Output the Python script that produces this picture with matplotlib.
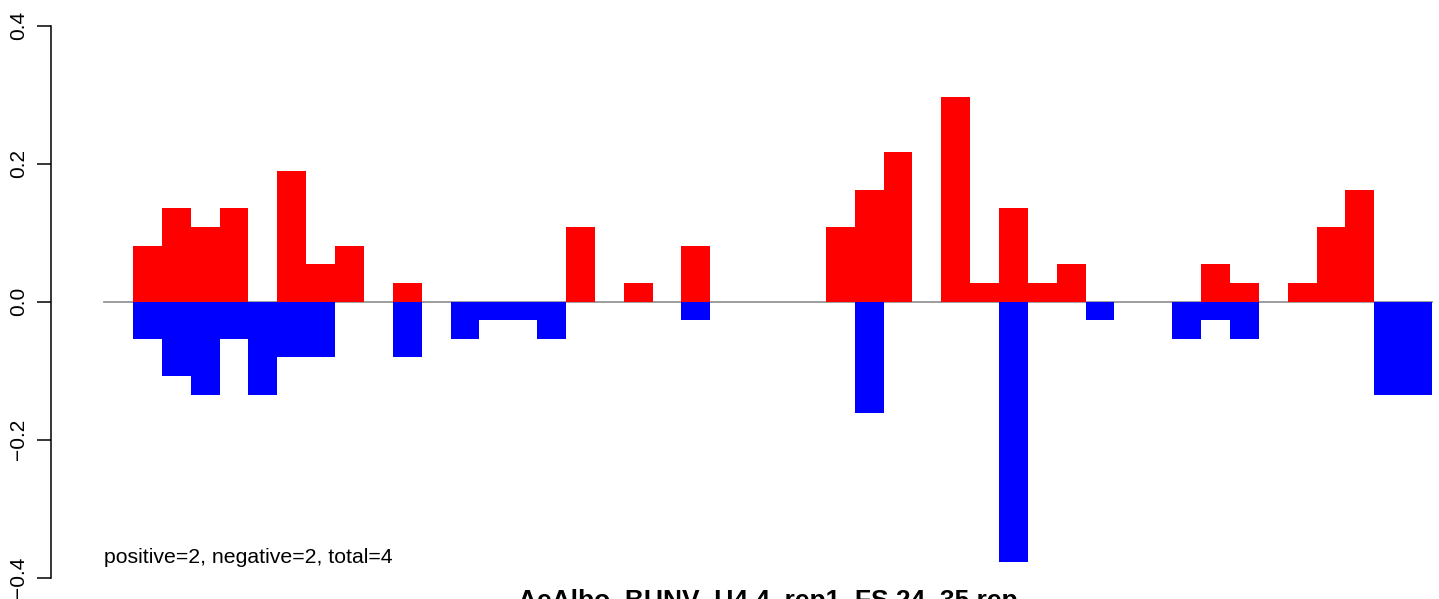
import matplotlib
matplotlib.use("Agg")
import matplotlib.pyplot as plt
import numpy as np

plt.rcParams['font.family'] = ['Liberation Sans', 'DejaVu Sans']

# bin index (1..45) and fractions above / below zero
bins = list(range(1, 46))
pos_vals = [0.081, 0.135, 0.108, 0.135, 0.0, 0.189, 0.054, 0.081, 0.0, 0.027,
            0.0, 0.0, 0.0, 0.0, 0.0, 0.108, 0.0, 0.027, 0.0, 0.081,
            0.0, 0.0, 0.0, 0.0, 0.108, 0.162, 0.216, 0.0, 0.297, 0.027,
            0.135, 0.027, 0.054, 0.0, 0.0, 0.0, 0.0, 0.054, 0.027, 0.0,
            0.027, 0.108, 0.162, 0.0, 0.0]
neg_vals = [-0.054, -0.108, -0.135, -0.054, -0.135, -0.081, -0.081, 0.0, 0.0, -0.081,
            0.0, -0.054, -0.027, -0.027, -0.054, 0.0, 0.0, 0.0, 0.0, -0.027,
            0.0, 0.0, 0.0, 0.0, 0.0, -0.162, 0.0, 0.0, 0.0, 0.0,
            -0.378, 0.0, 0.0, -0.027, 0.0, 0.0, -0.054, -0.027, -0.054, 0.0,
            0.0, 0.0, 0.0, -0.135, -0.135]
yticks = [-0.4, -0.2, 0.0, 0.2, 0.4]
note = "positive=2, negative=2, total=4"
title = "AeAlbo_BUNV_U4.4_rep1_FS 24_35 rep"

W, H = 1439, 599
fig = plt.figure(figsize=(W / 100, H / 100), dpi=100)
x0, x1 = 104.1, 1432.0
y_top, y_bot = 25.5, 577.5
ax = fig.add_axes([x0 / W, (H - y_bot) / H, (x1 - x0) / W, (y_bot - y_top) / H])
ax.patch.set_alpha(0)

# zero line, then the two bar series
ax.plot([0, 46], [0, 0], color='#8c8c8c', lw=1.2, zorder=1, clip_on=False)
ax.bar(bins, pos_vals, width=1, align='edge', color='#ff0000', lw=0, zorder=2)
ax.bar(bins, neg_vals, width=1, align='edge', color='#0000ff', lw=0, zorder=2)

ax.set_xlim(0, 46)
ax.set_ylim(-0.4, 0.4)
for s in ['top', 'right', 'bottom']:
    ax.spines[s].set_visible(False)
ax.spines['left'].set_position(('outward', 38.4))
ax.spines['left'].set_bounds(-0.4, 0.4)
ax.spines['left'].set_linewidth(1.1)
ax.set_xticks([])
ax.set_yticks(yticks)
ax.set_yticklabels([("%.1f" % v).replace('-', '\u2212') for v in yticks],
                   rotation=90, va='center', fontsize=15)
ax.tick_params(axis='y', length=10, width=1.1, pad=6.5)

ax.text(0, -0.379, note, fontsize=15.3, ha='left', va='baseline')
# title sits mostly below the bottom edge, as in the reference
fig.text((x0 + x1) / 2 / W, (H - 608) / H, title, fontsize=19, fontweight='bold',
         ha='center', va='baseline')

fig.savefig("out.png", dpi=100)
